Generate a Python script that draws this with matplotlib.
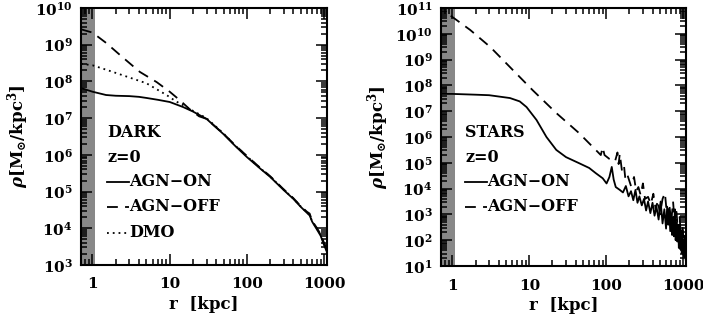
import numpy as np
import matplotlib
matplotlib.use("Agg")
import matplotlib.pyplot as plt
from matplotlib.ticker import LogLocator, FuncFormatter, NullFormatter
from matplotlib.lines import Line2D

plt.rcParams['font.family'] = 'DejaVu Serif'
plt.rcParams['font.weight'] = 'bold'
plt.rcParams['mathtext.fontset'] = 'dejavuserif'

# ---------------- DATA ----------------
# Dark matter panel (r in kpc, log10 rho)
dark_on_r   = [0.71, 1.0, 1.5, 2.0, 3.0, 4.0, 5.0, 7.0, 10, 13, 15, 20, 30, 50, 70, 100, 150, 200, 300, 400, 500, 600, 650, 700, 800, 900, 1000, 1090]
dark_on_lr  = [7.82, 7.72, 7.63, 7.61, 7.60, 7.58, 7.55, 7.50, 7.44, 7.35, 7.30, 7.18, 6.98, 6.56, 6.25, 5.94, 5.62, 5.40, 5.04, 4.80, 4.58, 4.42, 4.35, 4.18, 3.98, 3.80, 3.54, 3.35]
dark_off_r  = [0.71, 1.0, 1.5, 2.45, 4.1, 6.8, 10, 13.5, 18, 24, 30, 50, 70, 100, 150, 200, 300, 400, 500, 600, 650, 700, 800, 900, 1000, 1090]
dark_off_lr = [9.42, 9.33, 9.05, 8.66, 8.26, 7.98, 7.72, 7.49, 7.25, 7.05, 6.98, 6.57, 6.27, 5.97, 5.64, 5.42, 5.06, 4.82, 4.60, 4.45, 4.40, 4.20, 4.02, 3.84, 3.60, 3.42]
dmo_r       = [0.71, 1.0, 1.5, 2.45, 5.0, 9.1, 12, 16.6, 20, 30, 50, 70, 100, 150, 200, 300, 400, 500, 600, 650, 700, 800, 900, 1000, 1090]
dmo_lr      = [8.48, 8.44, 8.32, 8.17, 7.95, 7.63, 7.46, 7.30, 7.20, 7.00, 6.58, 6.26, 5.96, 5.63, 5.41, 5.05, 4.81, 4.59, 4.43, 4.37, 4.19, 4.00, 3.82, 3.58, 3.38]

# Stars panel (r in kpc, log10 rho)
star_on_r  = [0.71, 1.0, 2.0, 3.0, 5.6, 7.5, 9.2, 12.4, 16.7, 22.4, 30, 44, 60, 73, 90, 101, 110, 118, 125, 133,
              150, 165, 180, 195, 210, 225, 240, 255, 270, 290, 310, 330, 350, 375, 400, 425, 450, 480, 510,
              540, 570, 600, 620, 640, 660, 680, 700, 720, 740, 760, 780, 800, 820, 840, 860, 880, 900, 920,
              940, 960, 980, 1000, 1020, 1040, 1060, 1080]
star_on_lr = [7.67, 7.67, 7.64, 7.62, 7.51, 7.38, 7.16, 6.66, 6.00, 5.50, 5.22, 4.99, 4.80, 4.60, 4.40, 4.20, 4.45, 4.84, 4.35, 4.06,
              3.95, 3.85, 4.10, 3.70, 3.90, 3.55, 3.95, 3.45, 3.70, 3.35, 3.60, 3.15, 3.50, 3.05, 3.45, 2.95, 3.30, 2.80, 3.50,
              2.65, 3.20, 2.45, 3.30, 2.60, 3.10, 2.35, 3.00, 2.20, 2.90, 2.15, 3.20, 2.00, 2.70, 1.95, 2.60, 1.70, 2.50, 1.65,
              2.30, 1.50, 2.40, 1.45, 2.00, 1.35, 1.90, 1.25]
star_off_r  = [0.95, 1.0, 1.7, 3.1, 5.6, 11, 22.4, 44, 73, 85, 90, 95, 110, 130, 140, 145, 150, 160, 170, 178,
               190, 210, 230, 245, 262, 280, 300, 320, 350, 380, 410, 440, 470, 500, 540, 580, 620, 660, 700,
               740, 780, 820, 860, 900, 940, 980, 1020, 1060, 1090]
star_off_lr = [10.70, 10.65, 10.15, 9.49, 8.71, 7.82, 6.93, 6.16, 5.50, 5.30, 5.60, 5.30, 5.15, 5.05, 5.40, 4.95, 5.35, 4.70, 4.90, 4.33,
               4.50, 4.10, 4.45, 3.90, 4.06, 3.75, 4.20, 3.60, 3.68, 3.40, 3.80, 3.20, 3.55, 3.00, 3.60, 3.83, 2.90, 3.40, 2.70,
               3.50, 2.60, 3.10, 2.30, 2.90, 2.10, 2.60, 1.80, 2.30, 1.60]

xticks = [1, 10, 100, 1000]
xlabels = ['1', '10', '100', '1000']
xlim = (0.71, 1090)
soft_r = 1.08

W, H = 703, 323
fig = plt.figure(figsize=(W/100, H/100), dpi=100)
axL = fig.add_axes([81/W, (H-265)/H, 246/W, 257/H])
axR = fig.add_axes([441/W, (H-266)/H, 245/W, 258/H])

dash = (0, (6, 4))
dot = (0, (1, 2.2))
lw = 1.3

def style(ax, ylim):
    ax.set_xscale('log')
    ax.set_yscale('log')
    ax.set_xlim(*xlim)
    ax.set_ylim(*ylim)
    ax.axvspan(xlim[0], soft_r, color='#888888', lw=0, zorder=0)
    ax.set_xticks(xticks)
    ax.set_xticklabels(xlabels)
    ax.xaxis.set_minor_locator(LogLocator(base=10, subs=np.arange(2, 10), numticks=20))
    ax.xaxis.set_minor_formatter(NullFormatter())
    ax.yaxis.set_major_locator(LogLocator(base=10, numticks=20))
    ax.yaxis.set_minor_locator(LogLocator(base=10, subs=np.arange(2, 10), numticks=30))
    ax.yaxis.set_minor_formatter(NullFormatter())
    ax.yaxis.set_major_formatter(FuncFormatter(lambda v, p: r'$\mathbf{10^{%d}}$' % round(np.log10(v))))
    ax.tick_params(which='both', direction='in', top=True, right=True, width=1.1, labelsize=11)
    ax.tick_params(axis='x', which='both', pad=9)
    ax.tick_params(axis='y', which='both', pad=6)
    ax.tick_params(which='major', length=8)
    ax.tick_params(which='minor', length=4)
    for s in ax.spines.values():
        s.set_linewidth(1.5)
    ax.set_xlabel('r  [kpc]', fontsize=12, fontweight='bold', labelpad=3)
    ax.set_ylabel(r'$\rho\mathbf{[M_{\odot}/kpc^{3}]}$', fontsize=12, labelpad=3)

style(axL, (1e3, 1e10))
style(axR, (1e1, 1e11))

axL.plot(dark_on_r, 10**np.array(dark_on_lr), color='black', lw=lw)
axL.plot(dark_off_r, 10**np.array(dark_off_lr), color='black', lw=lw, linestyle=dash)
axL.plot(dmo_r, 10**np.array(dmo_lr), color='black', lw=lw, linestyle=dot)

axR.plot(star_on_r, 10**np.array(star_on_lr), color='black', lw=lw)
axR.plot(star_off_r, 10**np.array(star_off_lr), color='black', lw=lw, linestyle=dash)

def legend(ax, x0, ys, title, entries):
    fs = 11.5
    ax.text(x0, ys[0], title, transform=ax.transAxes, fontsize=fs, fontweight='bold', va='center')
    ax.text(x0, ys[1], 'z=0', transform=ax.transAxes, fontsize=fs, fontweight='bold', va='center')
    for (lab, ls), y in zip(entries, ys[2:]):
        ax.add_line(Line2D([x0, x0 + 0.088], [y, y], transform=ax.transAxes, color='black', lw=lw, linestyle=ls))
        ax.text(x0 + 0.09, y, lab, transform=ax.transAxes, fontsize=fs, fontweight='bold', va='center')

legend(axL, 0.106, [0.517, 0.42, 0.323, 0.226, 0.125], 'DARK',
       [('AGN\u2212ON', '-'), ('AGN\u2212OFF', dash), ('DMO', dot)])
legend(axR, 0.098, [0.519, 0.422, 0.326, 0.229], 'STARS',
       [('AGN\u2212ON', '-'), ('AGN\u2212OFF', dash)])

fig.savefig('out.png', dpi=100)
